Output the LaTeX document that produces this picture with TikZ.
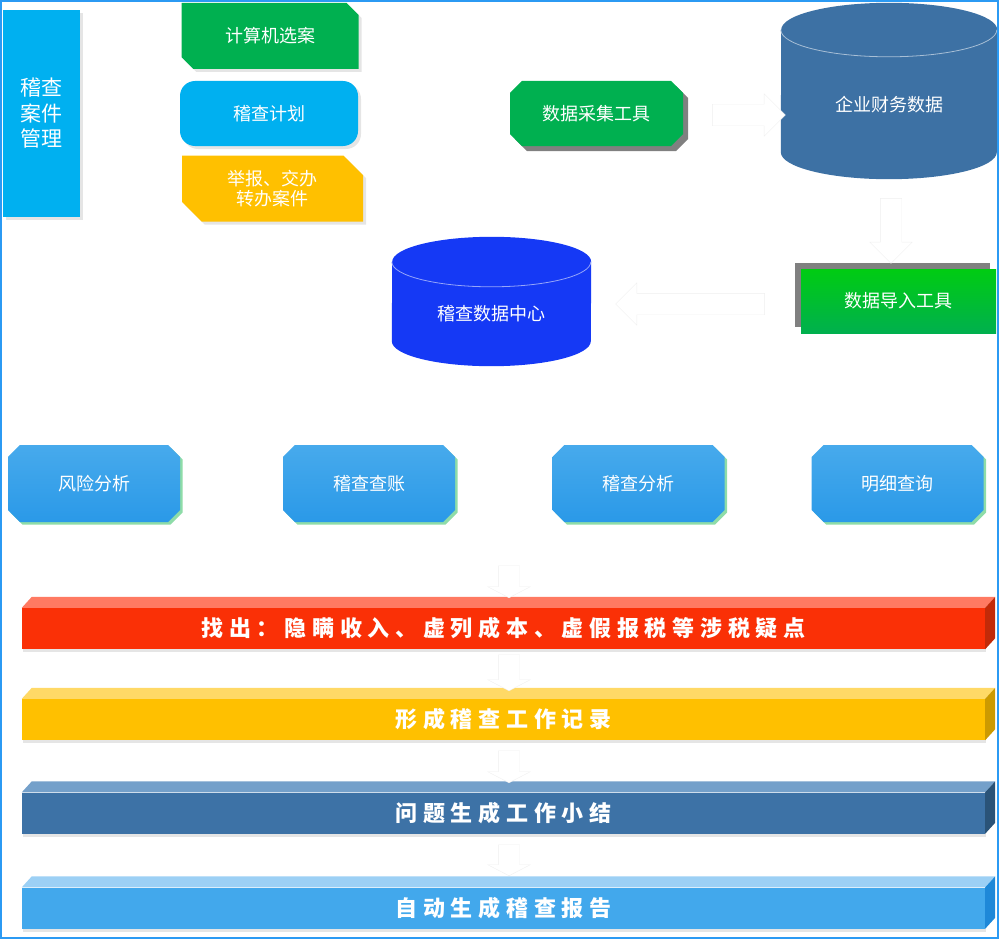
\documentclass[tikz,border=0pt]{standalone}
\usepackage{fontspec}
\setmainfont{Noto Sans CJK SC}
\newfontfamily\barfont{Noto Sans CJK SC}[LetterSpace=26]
\usetikzlibrary{shapes.misc, shapes.arrows, shadows, calc, backgrounds}

\definecolor{frameblue}{HTML}{2B9AF3}
\definecolor{cyanbox}{HTML}{00B0F0}
\definecolor{greenbox}{HTML}{00B050}
\definecolor{yellowbox}{HTML}{FFC000}
\definecolor{corpblue}{HTML}{3D71A4}
\definecolor{centerblue}{HTML}{1539F5}
\definecolor{importtop}{HTML}{00CC12}
\definecolor{importbot}{HTML}{00B04E}
\definecolor{octtop}{HTML}{47AAEC}
\definecolor{octbot}{HTML}{2A99E8}
\definecolor{octshadow}{HTML}{8EDCA8}
\definecolor{redF}{HTML}{FA3006}
\definecolor{redT}{HTML}{FF7A62}
\definecolor{redS}{HTML}{C22A08}
\definecolor{ylwF}{HTML}{FFC000}
\definecolor{ylwT}{HTML}{FFD966}
\definecolor{ylwS}{HTML}{CC9A00}
\definecolor{steelF}{HTML}{3D72A6}
\definecolor{steelT}{HTML}{74A0CA}
\definecolor{steelS}{HTML}{2A5378}
\definecolor{skyF}{HTML}{42A8EC}
\definecolor{skyT}{HTML}{9CD0F5}
\definecolor{skyS}{HTML}{1E88D8}

\begin{document}
\begin{tikzpicture}[x=1pt, y=-1pt, >=stealth, font=\fontsize{18}{20}\selectfont,
    box/.style={text=white, inner sep=0pt, align=center},
    lightshadow/.style={drop shadow={shadow xshift=3pt, shadow yshift=-3pt, fill=black!10, opacity=1}},
    snipbox/.style={box, lightshadow, chamfered rectangle, chamfered rectangle xsep=16pt,
        chamfered rectangle corners={north east, south west}, minimum width=177pt, minimum height=66pt},
    octbox/.style={box, chamfered rectangle, chamfered rectangle xsep=17pt,
        minimum width=172pt, minimum height=77pt, top color=octtop, bottom color=octbot,
        drop shadow={shadow xshift=2.5pt, shadow yshift=-2.5pt, fill=octshadow, opacity=1}},
    bar/.style={box, minimum width=963pt, minimum height=41pt,
        font=\barfont\bfseries\fontsize{22}{24}\selectfont,
        drop shadow={shadow xshift=1pt, shadow yshift=-3pt, fill=black!10, opacity=1}},
    flow/.style={to path={let \p1=($(\tikztotarget)-(\tikztostart)$) in
        (\tikztostart) -- (\tikztotarget) node[midway, sloped, allow upside down, single arrow,
        draw=black!6, fill=white, inner sep=0pt, inner ysep=10.5pt, minimum width=0pt,
        single arrow head extend=10.5pt, single arrow tip angle=#1,
        minimum height={veclen(\x1,\y1)}] {}}},
    flow/.default=90]
    \useasboundingbox (0,0) rectangle (1000,939);
    \draw[frameblue, line width=2pt] (1,1) rectangle (998,938);

    % case sources
    \node[box, lightshadow, fill=cyanbox, minimum width=77pt, minimum height=207pt,
        font=\fontsize{21}{25.5}\selectfont] (casemgmt) at (41.5,113.5) {稽查\\案件\\管理};
    \node[snipbox, fill=greenbox] (select) at (270,36) {计算机选案};
    \node[box, lightshadow, fill=cyanbox, rounded corners=15pt, minimum width=178pt,
        minimum height=65pt] (plan) at (269,113.5) {稽查计划};
    \node[snipbox, fill=yellowbox, minimum width=181pt] (report) at (272.5,188.5) {举报、交办\\转办案件};

    % data tools
    \node[box, chamfered rectangle, chamfered rectangle xsep=17pt, fill=greenbox,
        minimum width=173pt, minimum height=65pt,
        drop shadow={shadow xshift=5pt, shadow yshift=-5pt, fill=black!50, opacity=1}]
        (collect) at (596.5,113.5) {数据采集工具};
    \node[box, minimum width=216pt, minimum height=149pt] (corp) at (889,104.5) {企业财务数据};
    \node[box, top color=importtop, bottom color=importbot, minimum width=195pt, minimum height=64pt,
        drop shadow={shadow xshift=-6pt, shadow yshift=6pt, fill=black!50, opacity=1}]
        (import) at (898.5,301) {数据导入工具};
    \node[box, minimum width=199pt, minimum height=104pt] (dbc) at (491.5,314) {稽查数据中心};

    \begin{scope}[on background layer]
        \foreach \c/\rx/\ry/\col in {corp/108/27/corpblue, dbc/99.5/25/centerblue} {
            \fill[\col] ([yshift=\ry pt]\c.south west)
                arc[start angle=180, end angle=360, x radius=\rx pt, y radius=\ry pt]
                -- (\c.north east)
                arc[start angle=0, end angle=180, x radius=\rx pt, y radius=\ry pt] -- cycle;
            \draw[white!55!\col, line width=0.8pt] (\c.north west)
                arc[start angle=180, end angle=360, x radius=\rx pt, y radius=\ry pt];
        }
    \end{scope}

    % functions
    \foreach \n/\x/\txt in {risk/94/风险分析, ledger/369/稽查查账, analysis/638.5/稽查分析, detail/897.5/明细查询}
        \node[octbox] (\n) at (\x,483.5) {\txt};

    % results
    \foreach \n/\y/\front/\upper/\side/\txt in {find/628.5/redF/redT/redS/找出：隐瞒收入、虚列成本、虚假报税等涉税疑点,
            record/719.5/ylwF/ylwT/ylwS/形成稽查工作记录, summary/813/steelF/steelT/steelS/问题生成工作小结,
            reportgen/908/skyF/skyT/skyS/自动生成稽查报告} {
        \node[bar, fill=\front] (\n) at (503.5,\y) {\txt};
        \fill[\upper] (\n.north west) -- ++(10,-11) -- ([shift={(10,-11)}]\n.north east) -- (\n.north east) -- cycle;
        \fill[\side] (\n.north east) -- ++(10,-11) -- ([shift={(10,-11)}]\n.south east) -- (\n.south east) -- cycle;
    }

    % hollow arrows
    \foreach \i/\a/\b/\ang in {1/{707,115}/{780,115}/90, 2/{891,193}/{891,258}/90, 3/{770,304}/{621,304}/90,
            4/{509,563}/{509,595}/125, 5/{509,652}/{509,688}/125, 6/{509,748}/{509,780}/125,
            7/{509,842}/{509,873}/125} {
        \coordinate (from\i) at (\a);
        \coordinate (to\i) at (\b);
        \path[flow=\ang] (from\i) to (to\i);
    }
\end{tikzpicture}
\end{document}
